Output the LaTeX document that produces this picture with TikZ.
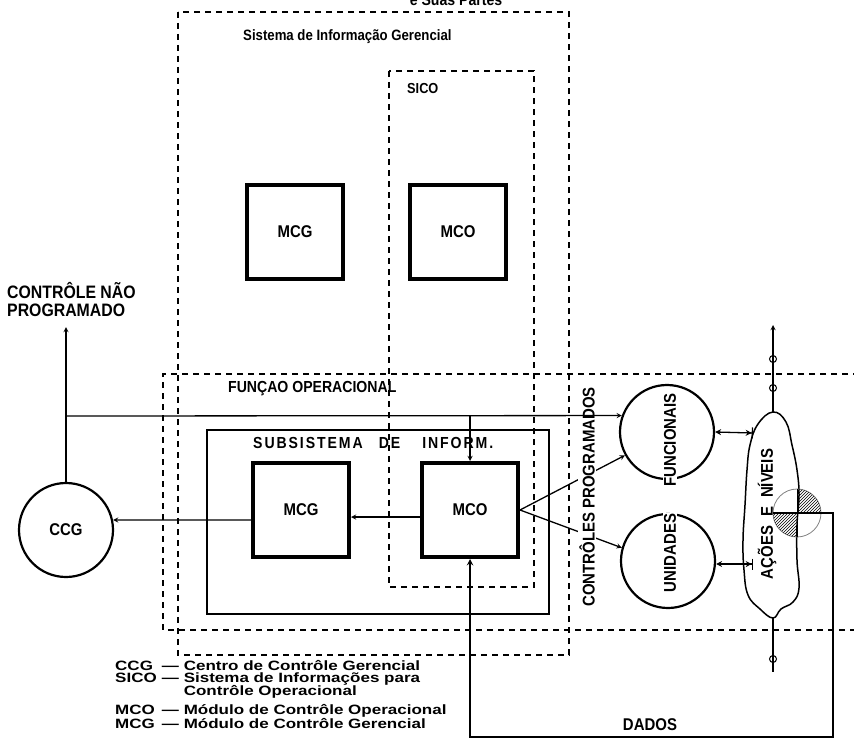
\documentclass[tikz,border=0pt]{standalone}
\usepackage{fontspec}
\setmainfont{Liberation Sans}[FakeStretch=0.88]
\newfontfamily\lgdfamily{Liberation Sans}[FakeStretch=1.26]
\usetikzlibrary{shapes, positioning, calc, patterns, arrows.meta}

\begin{document}
\begin{tikzpicture}[x=1pt, y=-1pt]
  \newcommand\boxwidth{96pt}
  \newcommand\boxheight{94pt}
  \newcommand\circsize{94pt}
  \newcommand\lblfont{\bfseries\fontsize{17}{20}\selectfont}
  \newcommand\lgdfont{\lgdfamily\bfseries\fontsize{13.5}{13}\selectfont}

  \tikzset{ptr/.style={->, >=stealth, line width=1.3pt}}
  \tikzset{dptr/.style={{Stealth[length=6pt, width=6pt]}-{Stealth[length=6pt, width=6pt] Bar[width=11pt]}, line width=1.3pt}}
  \tikzset{dashbox/.style={draw, dash pattern=on 6pt off 5pt, line width=1.2pt}}
  \tikzset{modbox/.style={draw, line width=4pt, minimum width=\boxwidth, minimum height=\boxheight, font=\lblfont}}
  \tikzset{unitcirc/.style={draw, circle, line width=2.2pt, minimum size=\circsize, font=\lblfont}}
  \tikzset{lbl/.style={font=\lblfont, inner sep=1pt}}
  \tikzset{vlbl/.style={lbl, rotate=90, fill=white}}
  \tikzset{marko/.style={draw, circle, line width=1pt, minimum size=7pt, inner sep=0pt}}
  \tikzset{lgd/.style={font=\lgdfont, anchor=north west, inner sep=0pt}}

  \useasboundingbox (0,0) rectangle (854,752);
  \clip (0,0) rectangle (854,752);

  % frames
  \node[lbl, anchor=base, font=\bfseries\fontsize{16}{18}\selectfont] (titulo) at (456,6) {e Suas Partes};
  \draw[dashbox] (178,12) rectangle (569,655);
  \node[lbl, anchor=west, font=\bfseries\fontsize{15}{18}\selectfont] (sig) at (242,37) {Sistema de Informação Gerencial};
  \draw[dashbox] (389,71) rectangle (534,587);
  \node[lbl, anchor=west, font=\bfseries\fontsize{14.5}{18}\selectfont] (sico) at (406,89) {SICO};
  \draw[dashbox] (870,374) -- (163,374) -- (163,630) -- (870,630);
  \node[lbl, anchor=west, font=\bfseries\fontsize{16}{18}\selectfont] (funcop) at (227,389) {FUNÇAO OPERACIONAL};
  \draw[line width=1.2pt] (207,430) rectangle (549,614);
  \node[lbl, anchor=west, font=\bfseries\fontsize{16}{18}\selectfont\addfontfeature{LetterSpace=12}] (subs) at (252,443) {SUBSISTEMA\hspace{16pt}DE\hspace{22pt}INFORM.};

  % modules
  \node[modbox] (mcg) at (295,232) {MCG};
  \node[modbox] (mco) at (458,232) {MCO};
  \node[modbox] (mcgb) at (301,510) {MCG};
  \node[modbox] (mcob) at (470,510) {MCO};

  % centres and units
  \node[unitcirc] (ccg) at (66,530) {CCG};
  \node[unitcirc] (func) at (667,432) {};
  \node[unitcirc] (unid) at (668,561) {};
  \node[lbl, anchor=north west, align=left, font=\bfseries\fontsize{18}{18}\selectfont] (cnp) at (6,281) {CONTRÔLE NÃO\\PROGRAMADO};

  \coordinate (cnpseta) at (66,327);
  \coordinate (jn) at (66,416);
  \draw[ptr] (ccg) -- (cnpseta);
  \draw[ptr] ([yshift=-7pt]mcob.west) -- ([yshift=-7pt]mcgb.east);
  \draw[ptr] ([yshift=-10pt]mcgb.west) -- (ccg.12);
  \draw[ptr] (mcob.east) -- (func.209);
  \draw[ptr] (mcob.east) -- (unid.164);

  \node[vlbl] (ctrlprog) at (587,497) {CONTRÔLES PROGRAMADOS};
  \node[vlbl] (funclbl) at (670,440) {FUNCIONAIS};
  \node[vlbl] (unidlbl) at (670,553) {UNIDADES};

  \draw[ptr] (jn) -- (func.160);
  \draw[ptr] (mcob.north |- jn) -- (mcob.north);

  % acoes e niveis
  \coordinate (acoestop) at (773,412);
  \coordinate (acoesbot) at (773,618);
  \draw[line width=1.5pt] plot[smooth cycle, tension=0.7] coordinates {(773,412) (786,422) (792,445) (797,470) (799,495) (797,525) (797,560) (799,588) (793,602) (781,609) (773,618) (760,609) (748,595) (744,570) (743,540) (745,505) (747,470) (750,445) (758,424)};
  \node[lbl, rotate=90] (acoes) at (767,514) {AÇÕES\hspace{9pt}E\hspace{9pt}NÍVEIS};

  \coordinate (fa) at (753,433);
  \coordinate (ua) at (753,564);
  \draw[dptr] (func.east) -- (fa);
  \draw[dptr] (unid.east |- ua) -- (ua);

  \coordinate (saida) at (773,325);
  \coordinate (entrada) at (773,672);
  \draw[ptr] (acoestop) -- (saida);
  \draw[line width=1.3pt] (acoesbot) -- (entrada);
  \foreach \ypos [count=\i] in {359, 388, 659}{
    \node[marko] (mk\i) at (773,\ypos) {};
  }

  % dados
  \node[draw=gray, circle, line width=0.8pt, minimum size=48pt, inner sep=0pt] (dh) at (797,513) {};
  \begin{scope}
    \clip (dh.center) rectangle ++(30,-30);
    \fill[pattern=north east lines] (dh.center) circle[radius=24pt];
  \end{scope}
  \begin{scope}
    \clip (dh.center) rectangle ++(-30,30);
    \fill[pattern=north east lines] (dh.center) circle[radius=24pt];
  \end{scope}
  \draw[line width=1pt] (dh.north) -- (dh.south);
  \coordinate (dd) at (833,737);
  \draw[ptr, line width=1.8pt] (dh.west) -- (dh.center -| dd) -- (dd) -- (dd -| mcob.south) -- (mcob.south);
  \node[lbl] (dados) at (650,725) {DADOS};

  % legenda
  \node[lgd] (legenda) at (115,660) {%
    \begin{tabular}{@{}l@{\hspace{5pt}}l@{\hspace{5pt}}l@{}}
      CCG & — & Centro de Contrôle Gerencial\\[-1pt]
      SICO & — & Sistema de Informações para\\[-1pt]
           &   & Contrôle Operacional\\[5pt]
      MCO & — & Módulo de Contrôle Operacional\\
      MCG & — & Módulo de Contrôle Gerencial
    \end{tabular}};
\end{tikzpicture}
\end{document}
